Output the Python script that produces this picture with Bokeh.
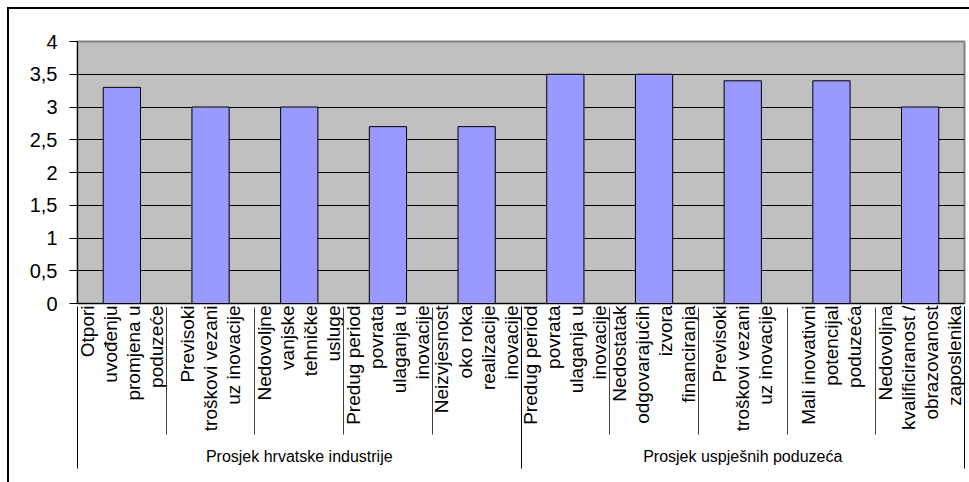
import math
from bokeh.plotting import figure
from bokeh.models import (Range1d, LinearAxis, FixedTicker, ColumnDataSource,
                          InlineStyleSheet)
from bokeh.embed import file_html
from bokeh.resources import INLINE

# ---- data ----
groups = ["Prosjek hrvatske industrije", "Prosjek uspješnih poduzeća"]
bar_groups = [
    "Prosjek hrvatske industrije", "Prosjek hrvatske industrije",
    "Prosjek hrvatske industrije", "Prosjek hrvatske industrije",
    "Prosjek hrvatske industrije",
    "Prosjek uspješnih poduzeća", "Prosjek uspješnih poduzeća",
    "Prosjek uspješnih poduzeća", "Prosjek uspješnih poduzeća",
    "Prosjek uspješnih poduzeća",
]
categories = [
    "Otpori\nuvođenju\npromjena u\npoduzeće",
    "Previsoki\ntroškovi vezani\nuz inovacije",
    "Nedovoljne\nvanjske\ntehničke\nusluge",
    "Predug period\npovrata\nulaganja u\ninovacije",
    "Neizvjesnost\noko roka\nrealizacije\ninovacije",
    "Predug period\npovrata\nulaganja u\ninovacije",
    "Nedostatak\nodgovarajućih\nizvora\nfinanciranja",
    "Previsoki\ntroškovi vezani\nuz inovacije",
    "Mali inovativni\npotencijal\npoduzeća",
    "Nedovoljna\nkvalificiranost /\nobrazovanost\nzaposlenika",
]
values = [3.3, 3.0, 3.0, 2.7, 2.7, 3.5, 3.5, 3.4, 3.4, 3.0]
y_ticks = [0, 0.5, 1, 1.5, 2, 2.5, 3, 3.5, 4]
y_tick_labels = ["0", "0,5", "1", "1,5", "2", "2,5", "3", "3,5", "4"]

FONT = "Liberation Sans"

n = len(categories)
# one unit of the category scale per category; bar i sits in the middle of slot i
slot_centers = [i + 0.5 for i in range(n)]
group_sizes = [bar_groups.count(g) for g in groups]
group_edges = [0]
for s in group_sizes:
    group_edges.append(group_edges[-1] + s)
group_centers = [(a + b) / 2 for a, b in zip(group_edges[:-1], group_edges[1:])]
EPS = 1e-3  # keep the last edge tick just inside the range so it is drawn
grp_edges = [min(e, n - EPS) for e in group_edges]
inner_edges = [e for e in range(1, n) if e not in group_edges]

source = ColumnDataSource(data=dict(x=slot_centers, top=values,
                                    cat=categories, grp=bar_groups))

p = figure(
    width=969, height=482,
    x_range=Range1d(0, n),
    y_range=Range1d(0, 4),
    output_backend="svg", toolbar_location=None,
    x_axis_location=None,
    min_border_left=77, min_border_right=5, min_border_top=41,
    min_border_bottom=179,
    background_fill_color="#c0c0c0", border_fill_color="white",
)
p.outline_line_color = "#808080"
p.outline_line_width = 2

# y axis
ya = p.yaxis[0]
ya.ticker = FixedTicker(ticks=y_ticks)
ya.major_label_overrides = {t: s for t, s in zip(y_ticks, y_tick_labels)}
ya.major_label_text_font = FONT
ya.major_label_text_font_size = "20px"
ya.major_label_text_color = "black"
ya.major_label_standoff = 12
ya.major_tick_out = 8
ya.major_tick_in = 0
ya.minor_tick_line_color = None
ya.axis_line_color = "black"
ya.major_tick_line_color = "black"

# grid
p.xgrid.visible = False
p.ygrid[0].ticker = FixedTicker(ticks=y_ticks[1:-1])
p.ygrid[0].grid_line_color = "black"
p.ygrid[0].grid_line_width = 1

# bars
p.vbar(x="x", top="top", width=0.42, source=source,
       fill_color="#9999ff", line_color="black", line_width=1)

# 1) category axis: rotated multi-line labels, no ticks
cat_axis = LinearAxis(
    ticker=FixedTicker(ticks=slot_centers, minor_ticks=[]),
    major_tick_out=0, major_tick_in=0, major_tick_line_color=None,
    minor_tick_out=0, minor_tick_in=0, minor_tick_line_color=None,
    axis_line_color="black",
    major_label_orientation=math.pi / 2,
    major_label_text_font=FONT, major_label_text_font_size="19px",
    major_label_text_color="black", major_label_text_line_height=1.1,
    major_label_standoff=2,
)
cat_axis.major_label_overrides = {c: t for c, t in zip(slot_centers, categories)}
p.add_layout(cat_axis, "below")

# 2) group axis: group names; inner category dividers drawn upward (tick in)
grp_axis = LinearAxis(
    ticker=FixedTicker(ticks=group_centers, minor_ticks=inner_edges),
    major_tick_out=0, major_tick_in=0, major_tick_line_color=None,
    minor_tick_out=0, minor_tick_in=127, minor_tick_line_color="#404040",
    axis_line_color=None,
    major_label_text_font=FONT, major_label_text_font_size="16px",
    major_label_text_color="black",
    major_label_standoff=13,
)
grp_axis.major_label_overrides = {c: g for c, g in zip(group_centers, groups)}
p.add_layout(grp_axis, "below")

# 3) group divider axis: long lines at the group boundaries
edge_axis = LinearAxis(
    ticker=FixedTicker(ticks=grp_edges, minor_ticks=[]),
    major_tick_out=1, major_tick_in=161, major_tick_line_color="black",
    minor_tick_line_color=None,
    axis_line_color=None,
    major_label_text_font_size="0px", major_label_standoff=0,
)
edge_axis.major_label_overrides = {e: "" for e in grp_edges}
p.add_layout(edge_axis, "below")

# outer chart frame (left and top edges of the chart area border)
p.stylesheets = [InlineStyleSheet(css="""
:host::after {
  content: "";
  position: absolute;
  left: 7px; top: 7px;
  width: 960px; height: 473px;
  border-left: 2px solid black;
  border-top: 2px solid black;
  pointer-events: none;
}
""")]

open("out.html", "w").write(file_html(p, INLINE))
